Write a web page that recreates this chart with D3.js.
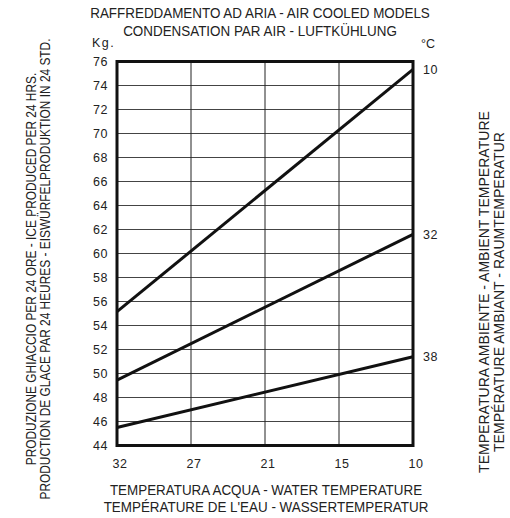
<!DOCTYPE html>
<html><head><meta charset="utf-8">
<script src="https://cdn.jsdelivr.net/npm/d3@7"></script>
<style>
html,body{margin:0;padding:0;background:#fff;}
svg{display:block;}
text{font-family:"Liberation Sans",Arial,sans-serif;fill:#222;}
</style></head>
<body>
<script>
const waterTemps = ["32","27","21","15","10"];
const yTicks = [44,46,48,50,52,54,56,58,60,62,64,66,68,70,72,74,76];
const ambientLabels = ["10","32","38"];
const startValues = [55.15, 49.45, 45.5];   // at water 32 °C
const endValues = [75.35, 61.6, 51.4];      // at water 10 °C
const titleLines = ["RAFFREDDAMENTO AD ARIA - AIR COOLED MODELS","CONDENSATION PAR AIR - LUFTKÜHLUNG"];
const xTitleLines = ["TEMPERATURA ACQUA - WATER TEMPERATURE","TEMPÉRATURE DE L'EAU - WASSERTEMPERATUR"];
const yTitleLines = ["PRODUZIONE GHIACCIO PER 24 ORE - ICE PRODUCED PER 24 HRS.","PRODUCTION DE GLACE PAR 24 HEURES - EISWÜRFELPRODUKTION IN 24 STD."];
const rTitleLines = ["TEMPERATURA AMBIENTE - AMBIENT TEMPERATURE","TEMPÉRATURE AMBIANT - RAUMTEMPERATUR"];

const W=510,H=518;
const m={left:117,right:413,top:61.5,bottom:445.5};
const svg=d3.select("body").append("svg").attr("width",W).attr("height",H);

const x=d3.scalePoint().domain(waterTemps).range([m.left,m.right]);
const y=d3.scaleLinear().domain([44,76]).range([m.bottom,m.top]);

// grid
const g=svg.append("g");
g.selectAll(".hg").data(yTicks.slice(1,-1)).join("line")
 .attr("x1",m.left).attr("x2",m.right).attr("y1",d=>y(d)).attr("y2",d=>y(d))
 .attr("stroke","#444").attr("stroke-width",1);
g.selectAll(".vg").data(waterTemps.slice(1,-1)).join("line")
 .attr("x1",d=>x(d)).attr("x2",d=>x(d)).attr("y1",m.top).attr("y2",m.bottom)
 .attr("stroke","#222").attr("stroke-width",1);

// lines
const series=ambientLabels.map((l,i)=>({label:l,pts:[[waterTemps[0],startValues[i]],[waterTemps[waterTemps.length-1],endValues[i]]]}));
const line=d3.line().x(d=>x(d[0])).y(d=>y(d[1]));
svg.selectAll(".ser").data(series).join("path")
 .attr("d",d=>line(d.pts)).attr("fill","none").attr("stroke","#111").attr("stroke-width",3);

// frame
svg.append("rect").attr("x",m.left).attr("y",m.top).attr("width",m.right-m.left).attr("height",m.bottom-m.top)
 .attr("fill","none").attr("stroke","#111").attr("stroke-width",3);

// y tick labels
svg.selectAll(".yt").data(yTicks).join("text")
 .attr("x",108).attr("y",d=>y(d)).attr("dy","0.35em").attr("text-anchor","end")
 .style("font-size","12.5px").style("letter-spacing","0.5px").text(d=>d);
// x tick labels
svg.selectAll(".xt").data(waterTemps).join("text")
 .attr("x",d=>x(d)+3).attr("y",468).attr("text-anchor","middle")
 .style("font-size","12.5px").style("letter-spacing","0.5px").text(d=>d);
// ambient labels
svg.selectAll(".al").data(series).join("text")
 .attr("x",423).attr("y",d=>y(d.pts[1][1])).attr("dy","0.35em")
 .style("font-size","12.5px").style("letter-spacing","0.5px").text(d=>d.label);

svg.append("text").attr("x",92).attr("y",47).style("font-size","12.5px").style("letter-spacing","1.5px").text("Kg.");
svg.append("text").attr("x",421).attr("y",48).style("font-size","12.5px").text("°C");

// titles (condensed via horizontal scale)
svg.selectAll(".tt").data(titleLines).join("text")
 .attr("transform",(d,i)=>`translate(260,${18+i*18}) scale(0.895,1)`).attr("text-anchor","middle")
 .style("font-size","15px").text(d=>d);
svg.selectAll(".xtt").data(xTitleLines).join("text")
 .attr("transform",(d,i)=>`translate(266,${495+i*16.5}) scale(0.895,1)`).attr("text-anchor","middle")
 .style("font-size","15px").text(d=>d);
svg.selectAll(".ytt").data(yTitleLines).join("text")
 .attr("transform",(d,i)=>`translate(${36+i*14},269) rotate(-90) scale(0.85,1)`).attr("text-anchor","middle")
 .style("font-size","14px").text(d=>d);
svg.selectAll(".rtt").data(rTitleLines).join("text")
 .attr("transform",(d,i)=>`translate(${489+i*14.5},292) rotate(-90) scale(0.97,1)`).attr("text-anchor","middle")
 .style("font-size","14.5px").text(d=>d);
</script>
</body></html>
